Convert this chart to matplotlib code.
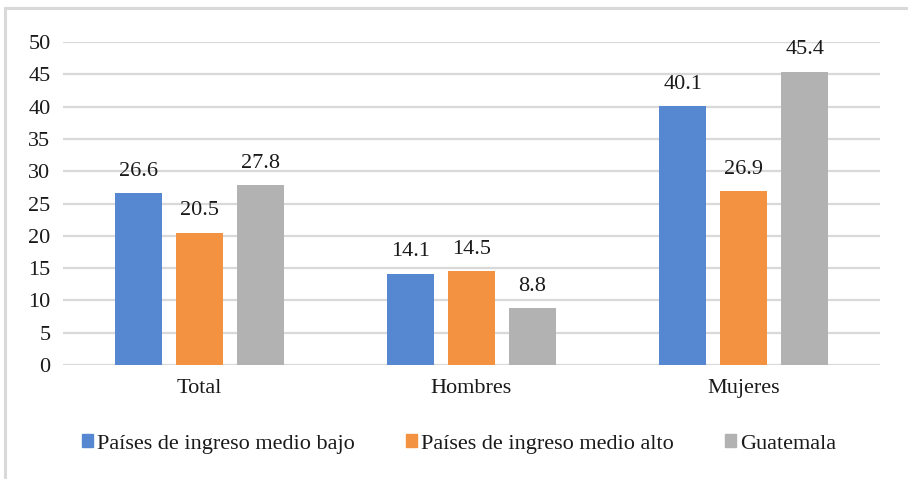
import matplotlib
matplotlib.use("Agg")
import matplotlib.pyplot as plt
from matplotlib.patches import Rectangle
from matplotlib.lines import Line2D
import numpy as np

categories = ["Total", "Hombres", "Mujeres"]
series_names = ["Países de ingreso medio bajo", "Países de ingreso medio alto", "Guatemala"]
medio_bajo = [26.6, 14.1, 40.1]
medio_alto = [20.5, 14.5, 26.9]
guatemala = [27.8, 8.8, 45.4]
y_ticks = [0, 5, 10, 15, 20, 25, 30, 35, 40, 45, 50]

colors = ["#5588D1", "#F39241", "#B2B2B2"]
plt.rcParams["font.family"] = ["Liberation Serif", "DejaVu Serif"]
FS = 16

fig = plt.figure(figsize=(9.08, 4.79), dpi=100)
ax = fig.add_axes([0.0694, 0.238, 0.8996, 0.674])

x = np.arange(len(categories))
width = 0.173
step = 0.224
for i, (vals, col) in enumerate(zip([medio_bajo, medio_alto, guatemala], colors)):
    pos = x + (i - 1) * step
    ax.bar(pos, vals, width=width, color=col, zorder=3, label=series_names[i])
    for xp, v in zip(pos, vals):
        ax.annotate(f"{v:.1f}", (xp, v), xytext=(0, 9), textcoords="offset points",
                    ha="center", va="bottom", fontsize=FS, color="#1a1a1a")

ax.set_xlim(-0.5, 2.5)
ax.set_ylim(0, 50)
ax.set_yticks(y_ticks)
ax.set_xticks(x)
ax.set_xticklabels(categories)
ax.grid(axis="y", color="#D9D9D9", linewidth=1.6, zorder=0)
for s in ax.spines.values():
    s.set_visible(False)
ax.tick_params(axis="both", length=0, labelsize=FS, colors="#1a1a1a")
ax.tick_params(axis="y", pad=9)
ax.tick_params(axis="x", pad=10)

# chart frame
fig.add_artist(Line2D([0.0055, 0.0055], [0, 0.983], transform=fig.transFigure,
                      color="#D9D9D9", linewidth=2.2))
fig.add_artist(Line2D([0.0055, 1.0], [0.983, 0.983], transform=fig.transFigure,
                      color="#D9D9D9", linewidth=2.2))

handles = [Rectangle((0, 0), 1, 1, color=c) for c in colors]
fig.legend(handles, series_names, loc="center", bbox_to_anchor=(0.506, 0.073), ncol=3,
           frameon=False, fontsize=FS, handlelength=0.5, handleheight=0.5,
           handletextpad=0.18, columnspacing=2.3, labelcolor="#1a1a1a")

fig.savefig("out.png", dpi=100)
